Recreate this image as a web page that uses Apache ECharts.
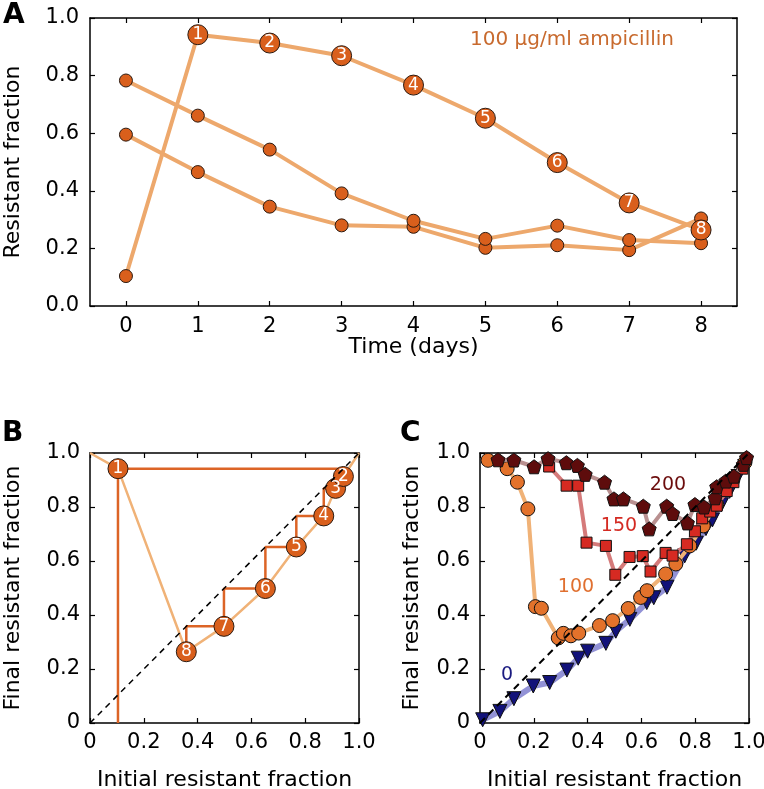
<!DOCTYPE html>
<html><head><meta charset="utf-8">
<script src="https://cdn.jsdelivr.net/npm/echarts@6/dist/echarts.min.js"></script>
<style>html,body{margin:0;padding:0;background:#fff}#c{width:764px;height:789px}</style>
</head><body><div id="c"></div>
<script>
// ---- Panel A: resistant fraction over days (100 ug/ml ampicillin)
const days = [0, 1, 2, 3, 4, 5, 6, 7, 8];
const seriesA1 = [0.104, 0.942, 0.913, 0.869, 0.767, 0.652, 0.498, 0.358, 0.264];
const seriesA2 = [0.783, 0.661, 0.543, 0.391, 0.296, 0.233, 0.279, 0.229, 0.218];
const seriesA3 = [0.595, 0.465, 0.345, 0.280, 0.275, 0.202, 0.211, 0.194, 0.304];
const dayTicks = [0, 1, 2, 3, 4, 5, 6, 7, 8];
const fracTicks = [0, 0.2, 0.4, 0.6, 0.8, 1.0];
// ---- Panel B: map curve end points
const curveStart = [0, 1.0];
const curveEnd = [1.0, 1.0];
// ---- Panel C: final vs initial resistant fraction per concentration
const c0 = [[0.01,0.012],[0.074,0.043],[0.126,0.09],[0.198,0.137],[0.259,0.15],[0.323,0.196],[0.365,0.24],[0.40,0.266],[0.468,0.295],[0.505,0.34],[0.557,0.384],[0.62,0.446],[0.646,0.464],[0.695,0.503],[0.761,0.619],[0.804,0.666],[0.84,0.72],[0.864,0.752],[0.897,0.808],[0.928,0.858],[0.959,0.913],[0.984,0.95]];
const c100 = [[0.03,0.973],[0.101,0.942],[0.139,0.892],[0.178,0.793],[0.206,0.431],[0.228,0.425],[0.291,0.315],[0.31,0.332],[0.338,0.323],[0.367,0.333],[0.444,0.361],[0.493,0.379],[0.551,0.424],[0.597,0.465],[0.621,0.49],[0.69,0.552],[0.728,0.589],[0.78,0.656],[0.83,0.73],[0.88,0.81],[0.94,0.9],[0.985,0.965]];
const c150 = [[0.257,0.95],[0.322,0.879],[0.365,0.879],[0.396,0.668],[0.468,0.656],[0.503,0.549],[0.556,0.615],[0.605,0.618],[0.634,0.561],[0.69,0.63],[0.716,0.62],[0.769,0.662],[0.799,0.71],[0.826,0.758],[0.856,0.783],[0.88,0.805],[0.917,0.859],[0.942,0.892],[0.975,0.942]];
const c200 = [[0.067,0.975],[0.126,0.974],[0.201,0.949],[0.253,0.979],[0.321,0.964],[0.362,0.954],[0.391,0.921],[0.463,0.892],[0.498,0.83],[0.533,0.83],[0.607,0.803],[0.629,0.719],[0.694,0.803],[0.716,0.776],[0.771,0.741],[0.799,0.809],[0.833,0.8],[0.874,0.834],[0.88,0.875],[0.914,0.896],[0.944,0.914],[0.979,0.958],[0.991,0.983]];
const diagonal = [[0, 0], [1, 1]];

const FONT = 'DejaVu Sans';
const DOT = '#d95f1c';
const LINE_A = '#eda86c';
const EDGE = '#2b1a10';
const PENTAGON = 'path://M0,-1 L0.951,-0.309 L0.588,0.809 L-0.588,0.809 L-0.951,-0.309 Z';

function fmt1(v){ return Math.abs(v) < 1e-9 ? '0' : v.toFixed(1); }
function fmtA(v){ return v.toFixed(1); }

function axisPair(gridIndex, type, opts) {
  const base = {
    gridIndex, type: 'value', min: opts.min, max: opts.max,
    axisLine: {show: true, onZero: false, lineStyle: {color: '#000', width: 1.5}},
    splitLine: {show: false},
    axisTick: {show: true, inside: true, length: 5, lineStyle: {color: '#000', width: 1.2}, customValues: opts.ticks},
  };
  const main = Object.assign({}, base, {
    position: type === 'x' ? 'bottom' : 'left',
    axisLabel: {show: true, customValues: opts.ticks, formatter: opts.fmt, fontFamily: FONT, fontSize: 21, color: '#000', margin: opts.margin},
    name: opts.name, nameLocation: 'middle', nameGap: opts.nameGap, nameMoveOverlap: false,
    nameTextStyle: {fontFamily: FONT, fontSize: 22, color: '#000'}
  });
  const mirror = Object.assign({}, base, {
    position: type === 'x' ? 'top' : 'right',
    axisLabel: {show: false}
  });
  return [main, mirror];
}

const xAxes = [].concat(
  axisPair(0, 'x', {min: -0.5, max: 8.5, ticks: dayTicks, fmt: v => String(v), margin: 10, name: 'Time (days)', nameGap: 30}),
  axisPair(1, 'x', {min: 0, max: 1, ticks: fracTicks, fmt: fmt1, margin: 9, name: 'Initial resistant fraction', nameGap: 46}),
  axisPair(2, 'x', {min: 0, max: 1, ticks: fracTicks, fmt: fmt1, margin: 9, name: 'Initial resistant fraction', nameGap: 46})
);
const yAxes = [].concat(
  axisPair(0, 'y', {min: 0, max: 1, ticks: fracTicks, fmt: fmtA, margin: 11, name: 'Resistant fraction', nameGap: 66}),
  axisPair(1, 'y', {min: 0, max: 1, ticks: fracTicks, fmt: fmt1, margin: 10, name: 'Final resistant fraction', nameGap: 66}),
  axisPair(2, 'y', {min: 0, max: 1, ticks: fracTicks, fmt: fmt1, margin: 10, name: 'Final resistant fraction', nameGap: 57})
);

function numbered(x, y, n) {
  return {value: [x, y], symbolSize: 20,
    label: {show: true, position: 'inside', formatter: String(n), color: '#fff', fontFamily: FONT, fontSize: 17}};
}

// Panel A series
const dataA1 = days.map((d, i) => i === 0 ? {value: [d, seriesA1[i]]} : numbered(d, seriesA1[i], i));
const dataA2 = days.map((d, i) => [d, seriesA2[i]]);
const dataA3 = days.map((d, i) => [d, seriesA3[i]]);

function lineA(data, z) {
  return {type: 'line', xAxisIndex: 0, yAxisIndex: 0, data, z,
    symbol: 'circle', symbolSize: 13, showAllSymbol: true, clip: false,
    lineStyle: {color: LINE_A, width: 4},
    itemStyle: {color: DOT, borderColor: EDGE, borderWidth: 1, opacity: 1}};
}

// Panel B
const bPoints = [];
for (let k = 1; k < seriesA1.length; k++) bPoints.push({k, x: seriesA1[k - 1], y: seriesA1[k]});
const cobweb = [[seriesA1[0], 0]];
for (let k = 1; k < seriesA1.length; k++) {
  cobweb.push([seriesA1[k - 1], seriesA1[k]]);
  if (k < seriesA1.length - 1) cobweb.push([seriesA1[k], seriesA1[k]]);
}
const curveB = [curveStart].concat(bPoints.slice().sort((a, b) => a.x - b.x).map(p => [p.x, p.y])).concat([curveEnd]);

function lineC(data, sym, color, lineColor, width, size, extra) {
  return Object.assign({type: 'line', xAxisIndex: 4, yAxisIndex: 4, data,
    symbol: sym, symbolSize: size, showAllSymbol: true, clip: false,
    lineStyle: {color: lineColor, width},
    itemStyle: {color, borderColor: '#111', borderWidth: 1, opacity: 1}}, extra || {});
}

const option = {
  animation: false,
  backgroundColor: '#fff',
  grid: [
    {left: 90, top: 18, width: 647, height: 288, outerBoundsMode: 'none', containLabel: false},
    {left: 90, top: 453, width: 269, height: 270, outerBoundsMode: 'none', containLabel: false},
    {left: 480, top: 453, width: 269, height: 270, outerBoundsMode: 'none', containLabel: false}
  ],
  xAxis: xAxes,
  yAxis: yAxes,
  series: [
    lineA(dataA3, 2), lineA(dataA2, 3), lineA(dataA1, 4),
    // B
    {type: 'line', xAxisIndex: 2, yAxisIndex: 2, data: curveB, symbol: 'none', z: 2,
      lineStyle: {color: '#f0b277', width: 2.5}},
    {type: 'line', xAxisIndex: 2, yAxisIndex: 2, data: cobweb, symbol: 'none', z: 3,
      lineStyle: {color: '#dc6426', width: 2.5}},
    {type: 'scatter', xAxisIndex: 2, yAxisIndex: 2, z: 4,
      data: bPoints.slice().reverse().map(p => numbered(p.x, p.y, p.k)),
      symbol: 'circle', itemStyle: {color: DOT, borderColor: EDGE, borderWidth: 1, opacity: 1}},
    {type: 'line', xAxisIndex: 2, yAxisIndex: 2, data: diagonal, symbol: 'none', z: 6,
      lineStyle: {color: '#000', width: 1.5, type: [6, 5]}},
    // C
    lineC(c0, 'triangle', '#12127a', 'rgba(110,110,200,0.75)', 6, 14, {symbolRotate: 180, z: 2}),
    lineC(c100, 'circle', '#e3722b', '#f0b277', 4, 14, {z: 3}),
    lineC(c150, 'rect', '#d62a22', '#d57a7a', 4, 11, {z: 4}),
    lineC(c200, PENTAGON, '#5e0c0c', '#b99090', 4, 14, {z: 5}),
    {type: 'line', xAxisIndex: 4, yAxisIndex: 4, data: diagonal, symbol: 'none', z: 6,
      lineStyle: {color: '#000', width: 2, type: [7, 5]}}
  ],
  graphic: [
    {type: 'text', left: 3, top: 2, style: {text: 'A', font: 'bold 28px "DejaVu Sans"', fill: '#000'}},
    {type: 'text', left: 2, top: 420, style: {text: 'B', font: 'bold 28px "DejaVu Sans"', fill: '#000'}},
    {type: 'text', left: 400, top: 420, style: {text: 'C', font: 'bold 28px "DejaVu Sans"', fill: '#000'}},
    {type: 'text', x: 572, y: 40, style: {text: '100 µg/ml ampicillin', font: '20px "DejaVu Sans"', fill: '#c86a2e', align: 'center', verticalAlign: 'middle'}},
    {type: 'text', x: 668, y: 485, style: {text: '200', font: '19px "DejaVu Sans"', fill: '#6b0c0c', align: 'center', verticalAlign: 'middle'}},
    {type: 'text', x: 619, y: 526, style: {text: '150', font: '19px "DejaVu Sans"', fill: '#d42a22', align: 'center', verticalAlign: 'middle'}},
    {type: 'text', x: 576, y: 587, style: {text: '100', font: '19px "DejaVu Sans"', fill: '#e07030', align: 'center', verticalAlign: 'middle'}},
    {type: 'text', x: 507, y: 675, style: {text: '0', font: '19px "DejaVu Sans"', fill: '#1a1a80', align: 'center', verticalAlign: 'middle'}}
  ]
};
const chart = echarts.init(document.getElementById('c'), null, {renderer: 'canvas'});
chart.setOption(option);
</script></body></html>
